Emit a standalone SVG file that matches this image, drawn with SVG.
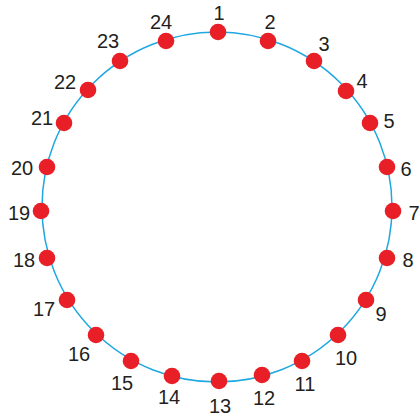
<svg xmlns="http://www.w3.org/2000/svg" width="419" height="418" viewBox="0 0 419 418">
<style>
.ring{fill:none;stroke:#1ea8e0;stroke-width:1.5}
.dot{fill:#e91f27}
.lbl{font-family:"Liberation Sans",Arial,sans-serif;font-size:20px;fill:#231f20;text-anchor:middle}
</style>
<rect width="419" height="418" fill="#ffffff"/>
<g id="connectors">
<circle class="ring" cx="217" cy="207" r="175"/>
</g>
<g id="n1"><circle class="dot" cx="218" cy="32" r="8.3"/><text class="lbl" x="219" y="20">1</text></g>
<g id="n2"><circle class="dot" cx="268" cy="41" r="8.3"/><text class="lbl" x="270" y="29">2</text></g>
<g id="n3"><circle class="dot" cx="314" cy="61" r="8.3"/><text class="lbl" x="324" y="51">3</text></g>
<g id="n4"><circle class="dot" cx="346" cy="91" r="8.3"/><text class="lbl" x="362" y="88">4</text></g>
<g id="n5"><circle class="dot" cx="370" cy="123" r="8.3"/><text class="lbl" x="389" y="128">5</text></g>
<g id="n6"><circle class="dot" cx="387" cy="167" r="8.3"/><text class="lbl" x="406" y="176">6</text></g>
<g id="n7"><circle class="dot" cx="393" cy="211" r="8.3"/><text class="lbl" x="414" y="220">7</text></g>
<g id="n8"><circle class="dot" cx="387" cy="258" r="8.3"/><text class="lbl" x="408" y="267">8</text></g>
<g id="n9"><circle class="dot" cx="366" cy="300" r="8.3"/><text class="lbl" x="381" y="321">9</text></g>
<g id="n10"><circle class="dot" cx="338" cy="335" r="8.3"/><text class="lbl" x="346" y="365">10</text></g>
<g id="n11"><circle class="dot" cx="302" cy="361" r="8.3"/><text class="lbl" x="305" y="391">11</text></g>
<g id="n12"><circle class="dot" cx="262" cy="375" r="8.3"/><text class="lbl" x="264" y="405">12</text></g>
<g id="n13"><circle class="dot" cx="219" cy="381" r="8.3"/><text class="lbl" x="220" y="413">13</text></g>
<g id="n14"><circle class="dot" cx="172" cy="376" r="8.3"/><text class="lbl" x="169" y="404">14</text></g>
<g id="n15"><circle class="dot" cx="131" cy="361" r="8.3"/><text class="lbl" x="122" y="390">15</text></g>
<g id="n16"><circle class="dot" cx="96" cy="335" r="8.3"/><text class="lbl" x="79" y="361">16</text></g>
<g id="n17"><circle class="dot" cx="67" cy="300" r="8.3"/><text class="lbl" x="44" y="316">17</text></g>
<g id="n18"><circle class="dot" cx="47" cy="258" r="8.3"/><text class="lbl" x="24" y="267">18</text></g>
<g id="n19"><circle class="dot" cx="41" cy="211" r="8.3"/><text class="lbl" x="19" y="220">19</text></g>
<g id="n20"><circle class="dot" cx="47" cy="167" r="8.3"/><text class="lbl" x="22" y="175">20</text></g>
<g id="n21"><circle class="dot" cx="64" cy="123" r="8.3"/><text class="lbl" x="42" y="125">21</text></g>
<g id="n22"><circle class="dot" cx="88" cy="90" r="8.3"/><text class="lbl" x="65" y="89">22</text></g>
<g id="n23"><circle class="dot" cx="120" cy="61" r="8.3"/><text class="lbl" x="108" y="48">23</text></g>
<g id="n24"><circle class="dot" cx="166" cy="41" r="8.3"/><text class="lbl" x="161" y="29">24</text></g>
</svg>
